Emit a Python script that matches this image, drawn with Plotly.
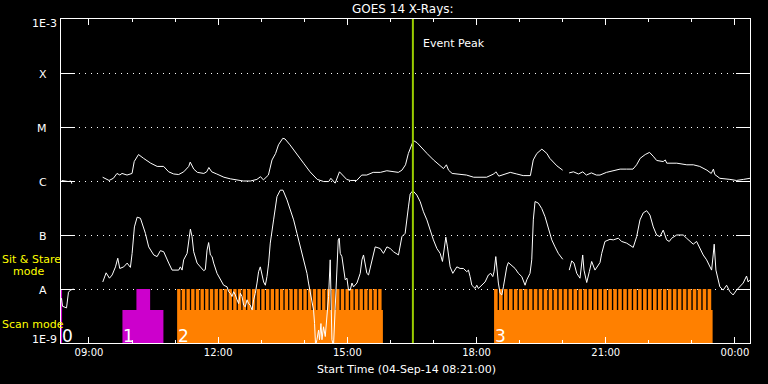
import pandas as pd
import plotly.graph_objects as go

# ---------------- data ----------------
START = pd.Timestamp("2014-09-04 08:21:00")
SPAN_MIN = 960  # 16 hours shown

# GOES long channel (1-8 A): minutes after start, log10 flux (W/m^2)
long_t_min = [
    1, 10, 14, 15, None,
    58, 67, 73, 78, 82, 85, 92, 99, 102, 108,
    115, 125, 134, 143, 150, 157, 164, 171, 178, 180,
    185, 190, 199, 203, 206, 210, 217, 227, 236, 245,
    254, 264, 273, 278, 282, 289, 294, 299, 303, 309,
    312, 319, 329, 338, 347, 357, 366, 373, 376, 380,
    382, 388, 394, 398, 403, 412, 419, 426, 435, 445,
    454, 463, 470, 475, 480, 484, 487, 491, 496, 500,
    510, 519, 528, 533, 537, 540, 545, 556, 565, 575,
    593, 603, 606, 610, 621, 626, 635, 644, 654, 658,
    663, 670, 677, 681, 691, 699, None,
    708, 714, 721, 727, 732, 739, 746, 751, 760, 770,
    779, 788, 797, 802, 807, 814, 820, 825, 830, 839,
    842, 844, 858, 872, 881, 890, 900, 906, 909, 911,
    918, 932, 941, 951, 960,
]
long_log10 = [
    -5.99, -6.01, -6.00, -6.05, None,
    -5.93, -5.99, -5.95, -5.86, -5.89, -5.86, -5.89, -5.86, -5.64, -5.51,
    -5.58, -5.67, -5.73, -5.73, -5.83, -5.87, -5.88, -5.83, -5.73, -5.65,
    -5.78, -5.84, -5.86, -5.83, -5.75, -5.83, -5.87, -5.93, -5.96, -5.98,
    -6.00, -6.00, -5.97, -5.92, -5.98, -5.89, -5.61, -5.49, -5.33, -5.21,
    -5.22, -5.33, -5.52, -5.67, -5.83, -5.97, -6.01, -6.01, -5.95, -6.01,
    -6.04, -5.83, -5.92, -5.97, -5.99, -5.99, -5.89, -5.89, -5.84, -5.84,
    -5.81, -5.83, -5.84, -5.80, -5.70, -5.49, -5.37, -5.25, -5.29, -5.35,
    -5.49, -5.61, -5.72, -5.77, -5.70, -5.80, -5.86, -5.87, -5.89, -5.93,
    -5.93, -5.87, -5.83, -5.91, -5.87, -5.84, -5.87, -5.90, -5.90, -5.61,
    -5.49, -5.41, -5.49, -5.58, -5.72, -5.80, None,
    -5.85, -5.83, -5.87, -5.83, -5.89, -5.85, -5.89, -5.89, -5.84, -5.81,
    -5.78, -5.78, -5.78, -5.70, -5.58, -5.51, -5.47, -5.54, -5.62, -5.64,
    -5.61, -5.67, -5.67, -5.70, -5.70, -5.73, -5.80, -5.86, -5.78, -5.88,
    -5.95, -5.97, -5.99, -5.97, -5.95,
]

# GOES short channel (0.5-4 A)
short_t_min = [
    0.7, 2.1, 7.7, 10.4, 13.2, 17.4, None,
    58.2, 62.9, 67.5, 71.3, 75.9, 79.1, 81.9, 87.4, 92.2, 96.7,
    99.1, 102.3, 106.1, 110.7, 117.6, 122.2, 129.2, 133.9, 138.5, 143.1,
    150.1, 154.8, 164.0, 166.3, 168.7, 170.9, 175.7, 177.9, 180.3, 182.6,
    184.9, 189.6, 194.2, 198.8, 201.1, 203.5, 205.7, 208.1, 210.5, 212.7,
    217.4, 222.0, 226.6, 231.4, 233.6, 235.9, 238.3, 240.5, 242.9, 245.3,
    247.5, 249.9, 252.2, 254.5, 256.8, 259.2, 261.4, 263.8, 266.2, 268.4,
    270.7, 273.1, 275.3, 277.7, 280.1, 282.3, 284.7, 287.0, 289.3, 291.6,
    296.2, 300.9, 305.5, 309.3, 314.9, 319.5, 324.1, 328.8, 333.4, 338.0,
    342.7, 344.9, 347.3, 349.7, 351.9, 353.3, 354.7, 356.6, 358.9, 360.2,
    362.2, 363.6, 365.8, 368.2, 370.6, 372.8, 375.1, 376.1, 377.5, 379.7,
    382.1, 384.5, 386.3, 387.7, 389.1, 391.4, 393.7, 396.0, 398.4, 400.6,
    403.0, 405.4, 407.6, 412.3, 416.9, 419.3, 421.5, 426.2, 428.5, 433.2,
    437.8, 444.7, 449.3, 454.1, 458.7, 463.3, 470.2, 475.0, 479.5, 484.1,
    486.5, 490.3, 495.8, 500.4, 505.0, 509.8, 514.3, 518.9, 523.7, 528.3,
    531.5, 533.8, 536.2, 538.4, 542.2, 545.9, 549.1, 551.5, 556.1, 560.7,
    565.4, 567.7, 570.0, 572.4, 577.0, 579.3, 581.6, 586.3, 590.9, 595.5,
    598.8, 601.6, 603.4, 605.8, 607.2, 609.4, 611.8, 614.2, 616.4, 618.7,
    621.1, 623.3, 628.1, 632.7, 637.3, 642.0, 646.6, 649.0, 653.5, 655.9,
    658.1, 660.5, 665.1, 669.8, 674.4, 679.0, 683.8, 688.3, 692.9, 699.1,
    None,
    708.2, 711.6, 714.8, 718.6, 723.1, 726.9, 728.7, 732.5, 736.1, 739.4,
    744.0, 748.6, 751.0, 753.4, 757.9, 764.9, 769.5, 776.5, 781.2, 788.1,
    792.7, 797.3, 802.1, 806.7, 811.3, 816.0, 820.6, 825.2, 829.9, 834.5,
    839.1, 843.8, 847.5, 850.8, 857.8, 866.9, 871.7, 876.3, 880.9, 885.6,
    890.2, 894.8, 899.5, 904.1, 906.5, 908.7, 910.1, 912.5, 918.0, 922.6,
    927.4, 932.0, 936.5, 941.3, 945.9, 950.5, 955.2, 957.4, 959.8,
]
short_log10 = [
    -8.17, -8.32, -8.35, -8.06, -8.02, -8.00, None,
    -7.87, -7.70, -7.80, -7.74, -7.59, -7.43, -7.62, -7.59, -7.52, -7.60,
    -7.34, -6.85, -6.67, -6.69, -6.97, -7.22, -7.37, -7.40, -7.29, -7.31,
    -7.52, -7.65, -7.65, -7.59, -7.65, -7.46, -7.34, -7.09, -6.89, -7.03,
    -7.31, -7.52, -7.59, -7.66, -7.64, -7.28, -7.14, -7.37, -7.40, -7.52,
    -7.71, -7.83, -7.93, -7.96, -8.05, -8.08, -8.14, -8.05, -8.11, -8.20,
    -8.27, -8.08, -8.14, -8.30, -8.33, -8.20, -8.27, -8.30, -8.39, -8.20,
    -8.08, -7.89, -7.68, -7.59, -7.71, -7.87, -7.93, -7.77, -7.52, -7.15,
    -6.72, -6.29, -6.17, -6.17, -6.35, -6.54, -6.72, -6.97, -7.22, -7.46,
    -7.71, -7.89, -8.08, -8.24, -8.39, -8.64, -9.05, -8.94, -8.76, -8.94,
    -8.64, -8.94, -8.70, -8.88, -8.45, -8.14, -7.46, -8.14, -8.94, -9.05,
    -8.33, -7.52, -7.09, -7.06, -7.34, -7.40, -7.65, -7.83, -7.80, -8.02,
    -8.02, -7.89, -7.96, -7.89, -7.71, -7.46, -7.37, -7.71, -7.74, -7.46,
    -7.22, -7.25, -7.34, -7.22, -7.25, -7.31, -7.37, -7.03, -6.97, -6.48,
    -6.24, -6.18, -6.26, -6.38, -6.57, -6.72, -6.91, -7.09, -7.25, -7.34,
    -7.49, -7.22, -7.04, -7.22, -7.59, -7.71, -7.65, -7.59, -7.62, -7.62,
    -7.68, -7.65, -7.77, -7.93, -7.99, -7.93, -7.99, -7.93, -7.87, -7.74,
    -7.71, -7.77, -7.68, -7.40, -7.65, -7.89, -8.08, -8.11, -7.96, -7.77,
    -7.59, -7.51, -7.56, -7.62, -7.71, -7.77, -7.93, -7.83, -7.71, -7.46,
    -6.72, -6.38, -6.41, -6.51, -6.66, -6.85, -7.09, -7.22, -7.34, -7.45,
    None,
    -7.65, -7.48, -7.52, -7.71, -7.80, -7.37, -7.65, -7.88, -7.68, -7.49,
    -7.65, -7.56, -7.51, -7.34, -7.12, -7.08, -7.09, -7.06, -7.12, -7.15,
    -7.19, -7.23, -7.03, -6.72, -6.59, -6.55, -6.63, -6.85, -7.00, -7.03,
    -6.91, -7.09, -7.12, -7.06, -7.00, -7.00, -7.06, -7.11, -7.17, -7.12,
    -7.25, -7.37, -7.46, -7.59, -7.65, -7.37, -7.17, -7.65, -7.96, -8.02,
    -7.93, -8.05, -8.11, -8.02, -7.96, -7.89, -7.76, -7.87, -7.83,
]

# Observing-mode blocks (minutes after start)
block_labels = ["0", "1", "2", "3"]
block_start_min = [0.0, 85.6, 161.8, 603.4]
block_end_min = [1.5, 142.7, 448.5, 907.9]
block_colors = ["#cc00cc", "#cc00cc", "#ff8000", "#ff8000"]
stare_start_min = [0.0, 105.1]   # sit & stare segments (magenta)
stare_end_min = [1.5, 124.2]
scan_counts = [0, 0, 44, 44]     # number of raster scans in each orange block
scan_duty = 0.72

level_floor = 1e-9
level_scan = 4.1e-9
level_stare = 1e-8

event_peak_min = 490.3

level_values = [1e-9, 1e-8, 1e-7, 1e-6, 1e-5, 1e-4, 1e-3]
level_names = ["1E-9", "A", "B", "C", "M", "X", "1E-3"]

assert len(long_t_min) == len(long_log10)
assert len(short_t_min) == len(short_log10)


def to_time(mins):
    return [None if m is None else START + pd.Timedelta(minutes=m) for m in mins]


def to_flux(logs):
    return [None if v is None else 10 ** v for v in logs]


def rects(segments):
    xs, ys = [], []
    for (t0, t1, y0, y1) in segments:
        xs += to_time([t0, t1, t1, t0, t0]) + [None]
        ys += [y0, y0, y1, y1, y0, None]
    return xs, ys


# ---------------- figure ----------------
fig = go.Figure()

# mode blocks
color_segments = {}
for i, lab in enumerate(block_labels):
    c = block_colors[i]
    segs = color_segments.setdefault(c, [])
    segs.append((block_start_min[i], block_end_min[i], level_floor, level_scan))
    n = scan_counts[i]
    if n:
        period = (block_end_min[i] - block_start_min[i]) / n
        for k in range(n):
            t0 = block_start_min[i] + k * period
            segs.append((t0, t0 + scan_duty * period, level_scan, level_stare))
for s0, s1 in zip(stare_start_min, stare_end_min):
    color_segments[block_colors[0]].append((s0, s1, level_scan, level_stare))

for c, segs in color_segments.items():
    xs, ys = rects(segs)
    fig.add_trace(go.Scatter(x=xs, y=ys, mode="lines", fill="toself",
                             fillcolor=c, line=dict(width=0, color=c),
                             hoverinfo="skip", showlegend=False))

# flux curves
fig.add_trace(go.Scatter(x=to_time(long_t_min), y=to_flux(long_log10), mode="lines",
                         line=dict(color="white", width=1), showlegend=False,
                         connectgaps=False))
fig.add_trace(go.Scatter(x=to_time(short_t_min), y=to_flux(short_log10), mode="lines",
                         line=dict(color="white", width=1), showlegend=False,
                         connectgaps=False))

# event peak line
fig.add_trace(go.Scatter(x=to_time([event_peak_min, event_peak_min]),
                         y=[level_values[0], level_values[-1]], mode="lines",
                         line=dict(color="#99cc00", width=2), showlegend=False))

FONT = "DejaVu Sans"
ann = []
# y level labels
for v, name in zip(level_values, level_names):
    big = name.startswith("1E")
    shift = 0
    if name == "1E-3":
        shift = -4.5
    elif name == "1E-9":
        shift = 3.5
    else:
        shift = -1
    ann.append(dict(xref="paper", yref="y", x=0, y=pd.Series([v]).apply(lambda q: __import__("math").log10(q))[0],
                    xshift=-2 if big else -12, yshift=shift,
                    xanchor="right", yanchor="middle", showarrow=False,
                    text=name, font=dict(family=FONT, size=11, color="white")))

# block numbers
for i, lab in enumerate(block_labels):
    ann.append(dict(xref="x", yref="paper", x=to_time([block_start_min[i]])[0], y=0,
                    xanchor="left", yanchor="bottom", xshift=-1, yshift=-5,
                    showarrow=False, text=lab,
                    font=dict(family=FONT, size=17, color="white")))

# mode labels
for txt, px, py in [("Sit & Stare", 1.7, 259), ("mode", 12.7, 271.5), ("Scan mode", 1.7, 324)]:
    ann.append(dict(xref="paper", yref="paper", x=0, y=0, xshift=px - 60.5 - 2,
                    yshift=343 - py, xanchor="left", yanchor="middle", showarrow=False,
                    text=txt, font=dict(family=FONT, size=11, color="#ffff00")))

# title / event / axis title
ann.append(dict(xref="paper", yref="paper", x=0, y=1, xshift=402 - 60.5, yshift=10,
                xanchor="center", yanchor="middle", showarrow=False,
                text="GOES 14 X-Rays:", font=dict(family=FONT, size=12, color="white")))
ann.append(dict(xref="x", yref="paper", x=to_time([event_peak_min])[0], y=1, xshift=8.5,
                yshift=-24, xanchor="left", yanchor="middle", showarrow=False,
                text="Event Peak", font=dict(family=FONT, size=11, color="white")))
ann.append(dict(xref="paper", yref="paper", x=0, y=0, xshift=405.8 - 60.5, yshift=-26,
                xanchor="center", yanchor="middle", showarrow=False,
                text="Start Time (04-Sep-14 08:21:00)",
                font=dict(family=FONT, size=11, color="white")))

fig.update_layout(
    width=768, height=384,
    margin=dict(l=60.5, r=17.5, t=19, b=41, pad=0),
    paper_bgcolor="black", plot_bgcolor="black",
    showlegend=False,
    annotations=ann,
    xaxis=dict(
        type="date",
        range=[START, START + pd.Timedelta(minutes=SPAN_MIN)],
        showline=True, linecolor="white", linewidth=1, mirror="allticks",
        ticks="inside", ticklen=6, tickwidth=1, tickcolor="white",
        tick0="2014-09-04 09:00:00", dtick=3 * 3600 * 1000, tickformat="%H:%M",
        tickfont=dict(family=FONT, size=10, color="white"),
        showgrid=False, zeroline=False,
        minor=dict(ticks="inside", ticklen=3, tickwidth=1, tickcolor="white",
                   tick0="2014-09-04 09:00:00", dtick=3600 * 1000, showgrid=False),
    ),
    yaxis=dict(
        type="log", range=[-9, -3],
        showline=True, linecolor="white", linewidth=1, mirror="allticks",
        ticks="inside", ticklen=14, tickwidth=1, tickcolor="white",
        tickvals=level_values, showticklabels=False,
        showgrid=True, gridcolor="white", gridwidth=1, griddash="1px,5px",
        zeroline=False,
    ),
)

fig.write_html("out.html", config={"displayModeBar": False})
